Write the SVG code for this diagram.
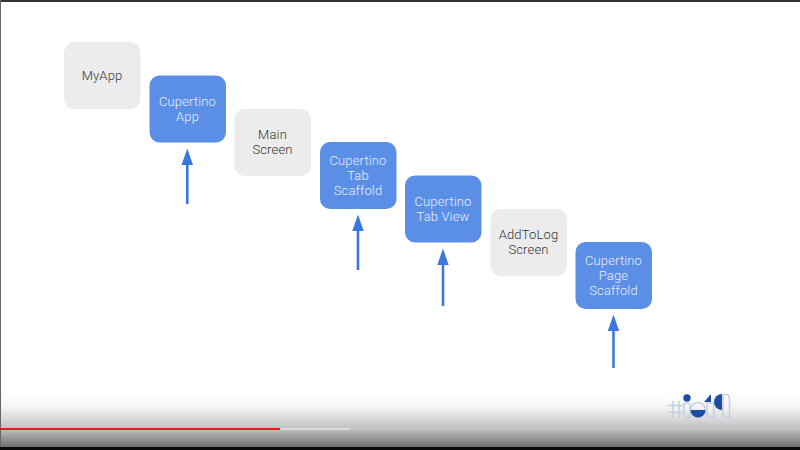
<svg xmlns="http://www.w3.org/2000/svg" width="800" height="450" viewBox="0 0 800 450">
<style>
.g{fill:#ececec}
.b{fill:#5b8fe6}
text{font-family:Roboto,"Liberation Sans",sans-serif;font-size:13px;font-weight:300;letter-spacing:.15px;text-anchor:middle}
.gt{fill:#333}
.bt{fill:#e6eefc}
.a{stroke:#3b78dc;stroke-width:2.6;fill:none}
.h{fill:#3b78dc}
.lg{fill:none;stroke:#c2d0e4;stroke-width:1.5}
.db{fill:#1c4fa3}
</style>
<defs>
<linearGradient id="s" x1="0" y1="0" x2="0" y2="1">
<stop offset="0" stop-color="#fff" stop-opacity="0"/>
<stop offset=".35" stop-color="#eeeeee"/>
<stop offset=".68" stop-color="#c0c0c0"/>
<stop offset="1" stop-color="#707070"/>
</linearGradient>
</defs>
<rect width="800" height="450" fill="#fff"/>
<g id="n-myapp"><rect class="g" x="64" y="42" width="76.500" height="67" rx="10"/><text class="gt" x="102" y="80">MyApp</text></g>
<g id="n-cupertino-app"><rect class="b" x="149.500" y="75.500" width="76.500" height="67" rx="10"/><text class="bt" x="187.500" y="106">Cupertino</text><text class="bt" x="187.500" y="121">App</text></g>
<g id="n-main-screen"><rect class="g" x="234.500" y="109" width="76.500" height="67" rx="10"/><text class="gt" x="272.500" y="139">Main</text><text class="gt" x="272.500" y="154">Screen</text></g>
<g id="n-tab-scaffold"><rect class="b" x="320" y="142" width="76.500" height="67" rx="10"/><text class="bt" x="358" y="165">Cupertino</text><text class="bt" x="358" y="180">Tab</text><text class="bt" x="358" y="195">Scaffold</text></g>
<g id="n-tab-view"><rect class="b" x="405" y="175.500" width="76.500" height="67" rx="10"/><text class="bt" x="443" y="206">Cupertino</text><text class="bt" x="443" y="221">Tab View</text></g>
<g id="n-addtolog"><rect class="g" x="490.500" y="209" width="76.500" height="67" rx="10"/><text class="gt" x="528.500" y="239">AddToLog</text><text class="gt" x="528.500" y="254">Screen</text></g>
<g id="n-page-scaffold"><rect class="b" x="575.500" y="242" width="76.500" height="67" rx="10"/><text class="bt" x="613.500" y="265">Cupertino</text><text class="bt" x="613.500" y="280">Page</text><text class="bt" x="613.500" y="295">Scaffold</text></g>
<g id="connectors">
<path class="a" d="M187.300 204V164"/><path class="h" d="M187.300 148.500L193 165H181.500Z"/>
<path class="a" d="M358 270V230"/><path class="h" d="M358 214.500L363.700 231H352.300Z"/>
<path class="a" d="M443 306V264"/><path class="h" d="M443 248.500L448.700 265H437.300Z"/>
<path class="a" d="M613.500 368V330"/><path class="h" d="M613.500 314.500L619.200 331H607.800Z"/>
</g>
<rect x="0" y="390" width="800" height="57" fill="url(#s)"/>
<rect x="0" y="447" width="800" height="3" fill="#0a0a0a"/>
<rect x="0" y="0" width="800" height="2" fill="#333"/>
<rect x="0" y="0" width="1" height="447" fill="#666"/>
<rect x="0" y="428" width="800" height="1.500" fill="#c4c4c4"/>
<rect x="0" y="428" width="350" height="2" fill="#dcdcdc"/>
<rect x="0" y="428" width="280" height="2" fill="#f01414"/>
<g>
<path class="lg" d="M668 405.500H683M668 412.500H683M673 401V418M679 401V418"/>
<circle class="db" cx="687" cy="398" r="3.700"/>
<rect class="lg" x="684" y="403" width="6" height="14.500" rx="1"/>
<circle class="lg" cx="698" cy="410" r="7.500"/>
<path class="db" d="M690.500 410H705.500A7.500 7.500 0 0 1 690.500 410Z"/>
<rect class="lg" x="707" y="403" width="7" height="14.500"/>
<path class="db" d="M704 402L711 394V402Z"/>
<path class="db" d="M722 394V410A8 8 0 0 1 714 402A8 8 0 0 1 722 394Z"/>
<path class="lg" d="M723 394.500H726Q729.500 394.500 729.500 398V417.500H723Z"/>
</g>
</svg>
